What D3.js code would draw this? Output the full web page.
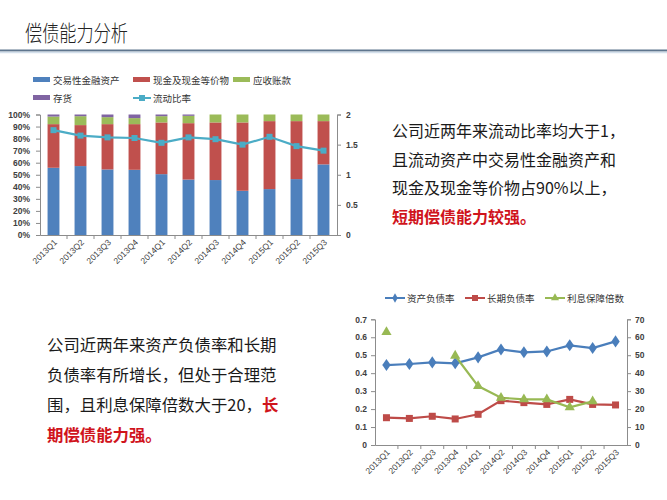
<!DOCTYPE html>
<html><head><meta charset="utf-8">
<script src="https://cdn.jsdelivr.net/npm/d3@7/dist/d3.min.js"></script>
<style>
body{margin:0;background:#fff;}
svg{display:block;}
</style></head>
<body>
<svg id="c" width="667" height="500"></svg>
<script>
// ---------- data ----------
const quarters = ["2013Q1","2013Q2","2013Q3","2013Q4","2014Q1","2014Q2","2014Q3","2014Q4","2015Q1","2015Q2","2015Q3"];
// chart 1: composition of current assets (%)
const tradingAssets = [55.8, 57.2, 54.4, 54.1, 50.5, 46.0, 45.6, 36.7, 38.1, 46.4, 58.6];
const cashEquiv     = [36.2, 34.0, 37.6, 37.9, 42.9, 46.8, 47.8, 56.7, 56.4, 48.1, 35.9];
const receivables   = [6.3, 7.4, 5.8, 5.0, 5.2, 6.1, 6.6, 6.6, 5.5, 5.5, 5.5];
const inventory     = [1.7, 1.4, 2.2, 3.0, 1.4, 1.1, 0, 0, 0, 0, 0];
const currentRatio  = [1.74, 1.65, 1.62, 1.61, 1.53, 1.62, 1.59, 1.50, 1.63, 1.475, 1.40];
const series1Names  = ["交易性金融资产","现金及现金等价物","应收账款","存货"];
const lineName1     = "流动比率";
const pctTicks      = [0,10,20,30,40,50,60,70,80,90,100];
const ratioTicks    = [0,0.5,1,1.5,2];
// chart 2
const debtRatio     = [0.445, 0.451, 0.460, 0.455, 0.488, 0.532, 0.516, 0.521, 0.555, 0.540, 0.577];
const longDebtRatio = [0.152, 0.148, 0.160, 0.145, 0.171, 0.247, 0.236, 0.226, 0.254, 0.226, 0.223];
const interestCover = [62.9, null, null, 49.7, 32.8, 26.3, 25.4, 25.4, 21.0, 24.3, null];
const series2Names  = ["资产负债率","长期负债率","利息保障倍数"];
const leftTicks2    = [0,0.1,0.2,0.3,0.4,0.5,0.6,0.7];
const rightTicks2   = [0,10,20,30,40,50,60,70];

const svg = d3.select("#c");
const CJK = "'Noto Sans CJK SC','Noto Sans',sans-serif";
const NUM = "'Liberation Sans',Arial,sans-serif";
const axisCol = "#8c8c8c", labCol = "#404040";

// ---------- title ----------
svg.append("text").attr("x",25).attr("y",41).attr("font-family",CJK).attr("font-size",22)
  .attr("font-weight",300).attr("textLength",103).attr("lengthAdjust","spacingAndGlyphs")
  .attr("fill","#222").text("偿债能力分析");
svg.append("line").attr("x1",0).attr("x2",667).attr("y1",50.5).attr("y2",50.5).attr("stroke","#5f768e").attr("stroke-width",1.8);
svg.append("line").attr("x1",0).attr("x2",667).attr("y1",52.5).attr("y2",52.5).attr("stroke","#d3dfeb").attr("stroke-width",1.5);

// ---------- chart 1 ----------
const c1 = {l:40, r:337, t:114.5, b:235};
const x1 = d3.scaleBand().domain(quarters).range([c1.l,c1.r]).padding(0);
const y1 = d3.scaleLinear().domain([0,100]).range([c1.b,c1.t]);
const y1r = d3.scaleLinear().domain([0,2]).range([c1.b,c1.t]);
const colors1 = ["#4f81bd","#c0504d","#9bbb59","#8064a2"];
const lineCol1 = "#4bacc6";

const table1 = quarters.map((q,i)=>({q, s0:tradingAssets[i], s1:cashEquiv[i], s2:receivables[i], s3:inventory[i]}));
const stack1 = d3.stack().keys(["s0","s1","s2","s3"])(table1);
const barW = x1.bandwidth()*0.44;
stack1.forEach((layer,k)=>{
  svg.append("g").selectAll("rect").data(layer).join("rect")
    .attr("x",d=>x1(d.data.q)+(x1.bandwidth()-barW)/2)
    .attr("width",barW)
    .attr("y",d=>y1(d[1]))
    .attr("height",d=>Math.max(0,y1(d[0])-y1(d[1])))
    .attr("fill",colors1[k]);
});

// axes chart 1
const gL1 = svg.append("g").attr("transform",`translate(${c1.l},0)`)
  .call(d3.axisLeft(y1).tickValues(pctTicks).tickFormat(d=>d+"%").tickSize(4));
const gR1 = svg.append("g").attr("transform",`translate(${c1.r},0)`)
  .call(d3.axisRight(y1r).tickValues(ratioTicks).tickFormat(d=>d).tickSize(4));
const gB1 = svg.append("g").attr("transform",`translate(0,${c1.b})`)
  .call(d3.axisBottom(x1).tickSize(0).tickFormat(""));
// category boundary ticks
svg.append("g").selectAll("line").data(quarters.slice(1)).join("line")
  .attr("x1",d=>x1(d)).attr("x2",d=>x1(d)).attr("y1",c1.b).attr("y2",c1.b+4).attr("stroke",axisCol);
[gL1,gR1,gB1].forEach(g=>{
  g.select(".domain").attr("stroke",axisCol);
  g.selectAll(".tick line").attr("stroke",axisCol);
  g.selectAll(".tick text").attr("font-family",NUM).attr("font-size",8.5).attr("font-weight","bold").attr("fill",labCol);
});
gL1.selectAll(".tick text").attr("x",-10);
gR1.selectAll(".tick text").attr("x",9);
svg.append("g").selectAll("text").data(quarters).join("text")
  .attr("transform",d=>`translate(${x1(d)+x1.bandwidth()/2+4},${c1.b+8}) rotate(-45)`)
  .attr("text-anchor","end").attr("font-family",NUM).attr("font-size",8.5).attr("fill",labCol).text(d=>d);

// line chart 1
const ln1 = d3.line().x((d,i)=>x1(quarters[i])+x1.bandwidth()/2).y(d=>y1r(d));
svg.append("path").attr("d",ln1(currentRatio)).attr("fill","none").attr("stroke",lineCol1).attr("stroke-width",2.2);
svg.append("g").selectAll("rect").data(currentRatio).join("rect")
  .attr("x",(d,i)=>x1(quarters[i])+x1.bandwidth()/2-3).attr("y",d=>y1r(d)-3)
  .attr("width",6).attr("height",6).attr("fill",lineCol1);

// legend chart 1
const leg1 = [
  {n:series1Names[0],c:colors1[0],x:33,y:80,t:"bar"},
  {n:series1Names[1],c:colors1[1],x:133,y:80,t:"bar"},
  {n:series1Names[2],c:colors1[2],x:233,y:80,t:"bar"},
  {n:series1Names[3],c:colors1[3],x:33,y:98,t:"bar"},
  {n:lineName1,c:lineCol1,x:133,y:98,t:"line"}
];
leg1.forEach(d=>{
  if(d.t==="bar"){
    svg.append("rect").attr("x",d.x).attr("y",d.y-3).attr("width",17).attr("height",5).attr("fill",d.c);
  } else {
    svg.append("line").attr("x1",d.x).attr("x2",d.x+18).attr("y1",d.y).attr("y2",d.y).attr("stroke",d.c).attr("stroke-width",2);
    svg.append("rect").attr("x",d.x+6).attr("y",d.y-3).attr("width",6).attr("height",6).attr("fill",d.c);
  }
  svg.append("text").attr("x",d.x+20).attr("y",d.y+3.5).attr("font-family",CJK).attr("font-size",9.5).attr("fill","#333").text(d.n);
});

// ---------- text blocks ----------
const txtR = [
  [{t:"公司近两年来流动比率均大于1，",red:false}],
  [{t:"且流动资产中交易性金融资产和",red:false}],
  [{t:"现金及现金等价物占90%以上，",red:false}],
  [{t:"短期偿债能力较强。",red:true}]
];
const txtL = [
  [{t:"公司近两年来资产负债率和长期",red:false}],
  [{t:"负债率有所增长，但处于合理范",red:false}],
  [{t:"围，且利息保障倍数大于20，",red:false},{t:"长",red:true}],
  [{t:"期偿债能力强。",red:true}]
];
function block(lines,x,y0,dy,fs){
  lines.forEach((ln,i)=>{
    const t = svg.append("text").attr("x",x).attr("y",y0+i*dy).attr("font-family",CJK).attr("font-size",fs);
    ln.forEach(p=>t.append("tspan").attr("fill",p.red?"#d0141c":"#1a1a1a").attr("font-weight",p.red?"bold":"normal").text(p.t));
  });
}
block(txtR,392,137,28.5,16);
block(txtL,47,351,30,16.4);

// ---------- chart 2 ----------
const c2 = {l:375, r:627, t:319.3, b:445};
const x2 = d3.scaleBand().domain(quarters).range([c2.l,c2.r]).padding(0);
const y2 = d3.scaleLinear().domain([0,0.7]).range([c2.b,c2.t]);
const y2r = d3.scaleLinear().domain([0,70]).range([c2.b,c2.t]);
const cx2 = q=>x2(q)+x2.bandwidth()/2;

const gL2 = svg.append("g").attr("transform",`translate(${c2.l},0)`)
  .call(d3.axisLeft(y2).tickValues(leftTicks2).tickFormat(d3.format(".1~f")).tickSize(4));
const gR2 = svg.append("g").attr("transform",`translate(${c2.r},0)`)
  .call(d3.axisRight(y2r).tickValues(rightTicks2).tickFormat(d=>d).tickSize(4));
const gB2 = svg.append("g").attr("transform",`translate(0,${c2.b})`)
  .call(d3.axisBottom(x2).tickSize(0).tickFormat(""));
svg.append("g").selectAll("line").data(quarters.slice(1)).join("line")
  .attr("x1",d=>x2(d)).attr("x2",d=>x2(d)).attr("y1",c2.b).attr("y2",c2.b+4).attr("stroke",axisCol);
[gL2,gR2,gB2].forEach(g=>{
  g.select(".domain").attr("stroke",axisCol);
  g.selectAll(".tick line").attr("stroke",axisCol);
  g.selectAll(".tick text").attr("font-family",NUM).attr("font-size",8.5).attr("font-weight","bold").attr("fill",labCol);
});
gL2.selectAll(".tick text").attr("x",-8);
gR2.selectAll(".tick text").attr("x",8);
gL2.selectAll(".tick").filter(d=>d===0).select("text").text("0");
svg.append("g").selectAll("text").data(quarters).join("text")
  .attr("transform",d=>`translate(${cx2(d)+4},${c2.b+8}) rotate(-45)`)
  .attr("text-anchor","end").attr("font-family",NUM).attr("font-size",8.5).attr("fill",labCol).text(d=>d);

const colors2 = ["#4a7ebb","#be4b48","#98b954"];
const lineL = d3.line().defined(d=>d!=null).x((d,i)=>cx2(quarters[i])).y(d=>y2(d));
const lineR = d3.line().defined(d=>d!=null).x((d,i)=>cx2(quarters[i])).y(d=>y2r(d));
svg.append("path").attr("d",lineL(debtRatio)).attr("fill","none").attr("stroke",colors2[0]).attr("stroke-width",2.2);
svg.append("path").attr("d",lineL(longDebtRatio)).attr("fill","none").attr("stroke",colors2[1]).attr("stroke-width",2.2);
svg.append("path").attr("d",lineR(interestCover)).attr("fill","none").attr("stroke",colors2[2]).attr("stroke-width",2.2);

const sym = (type,size)=>d3.symbol().type(type).size(size)();
svg.append("g").selectAll("path").data(debtRatio).join("path")
  .attr("d",sym(d3.symbolDiamond,42)).attr("transform",(d,i)=>`translate(${cx2(quarters[i])},${y2(d)}) scale(1.2,1)`).attr("fill",colors2[0]);
svg.append("g").selectAll("rect").data(longDebtRatio).join("rect")
  .attr("x",(d,i)=>cx2(quarters[i])-3.5).attr("y",d=>y2(d)-3.5).attr("width",7).attr("height",7).attr("fill",colors2[1]);
svg.append("g").selectAll("path").data(interestCover.map((v,i)=>({v,i})).filter(d=>d.v!=null)).join("path")
  .attr("d",sym(d3.symbolTriangle,45)).attr("transform",d=>`translate(${cx2(quarters[d.i])},${y2r(d.v)})`).attr("fill",colors2[2]);

// legend chart 2
const leg2 = [
  {n:series2Names[0],c:colors2[0],x:385,s:"d"},
  {n:series2Names[1],c:colors2[1],x:465,s:"s"},
  {n:series2Names[2],c:colors2[2],x:545,s:"t"}
];
const ly = 298;
leg2.forEach(d=>{
  svg.append("line").attr("x1",d.x).attr("x2",d.x+20).attr("y1",ly).attr("y2",ly).attr("stroke",d.c).attr("stroke-width",2);
  if(d.s==="d") svg.append("path").attr("d",sym(d3.symbolDiamond,26)).attr("transform",`translate(${d.x+10},${ly})`).attr("fill",d.c);
  if(d.s==="s") svg.append("rect").attr("x",d.x+7).attr("y",ly-3).attr("width",6).attr("height",6).attr("fill",d.c);
  if(d.s==="t") svg.append("path").attr("d",sym(d3.symbolTriangle,28)).attr("transform",`translate(${d.x+10},${ly})`).attr("fill",d.c);
  svg.append("text").attr("x",d.x+22).attr("y",ly+3.5).attr("font-family",CJK).attr("font-size",9.5).attr("fill","#333").text(d.n);
});
</script>
</body></html>
